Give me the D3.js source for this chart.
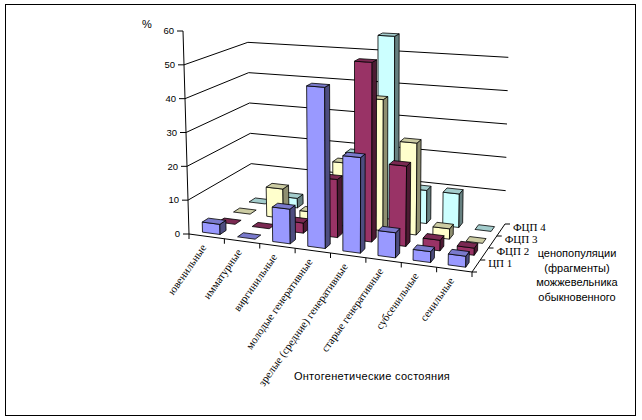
<!DOCTYPE html>
<html>
<head>
<meta charset="utf-8">
<script src="https://cdn.jsdelivr.net/npm/d3@7"></script>
<style>
  body { margin: 0; background: #fff; }
  svg { display: block; }
</style>
</head>
<body>
<svg id="chart" width="642" height="420"></svg>
<script>
// data
const categories = ["ювенильные", "имматурные", "виргинильные", "молодые генеративные",
  "зрелые (средние) генеративные", "старые генеративные", "субсенильные", "сенильные"];
const seriesNames = ["ЦП 1", "ФЦП 2", "ФЦП 3", "ФЦП 4"];
const cp1  = [3, 0, 10, 46, 27, 7, 3, 3];
const fcp2 = [0, 0, 3, 17, 52, 23, 3, 2];
const fcp3 = [0, 9, 3, 19, 39, 27, 3, 0];
const fcp4 = [0, 3, 2, 19, 56, 10, 10, 0];
const yTicks = [0, 10, 20, 30, 40, 50, 60];
const gridTicks = [10, 20, 30, 40, 50];
const depthTitle = ["ценопопуляции", "(фрагменты)", "можжевельника", "обыкновенного"];

const seriesValues = [cp1, fcp2, fcp3, fcp4];
// front, top, side colours per series
const colors = [
  { front: "#9999ff", top: "#7a7acc", side: "#4d4d80" },
  { front: "#993366", top: "#7a2952", side: "#4d1a33" },
  { front: "#ffffcc", top: "#cccca3", side: "#8f8f70" },
  { front: "#ccffff", top: "#a3cccc", side: "#668080" }
];

const svg = d3.select("#chart");

// outer frame
svg.append("rect")
  .attr("x", 5.5).attr("y", 4.5)
  .attr("width", 630).attr("height", 411)
  .attr("fill", "none").attr("stroke", "#000").attr("stroke-width", 1);

// scales: u along categories, v along depth (0 = front), h height 0..1
const x = d3.scaleBand().domain(categories).range([0, 1]).paddingInner(0.5).paddingOuter(0.25);
const z = d3.scaleBand().domain(seriesNames).range([0, 1]).paddingInner(0.6).paddingOuter(0.3);
const y = d3.scaleLinear().domain([0, 60]).range([0, 1]);

// screen corners of the floor and of the 60 level
const floor = { fl: [189, 234], fr: [472, 272], bl: [252, 194], br: [505, 224] };
const roof  = { fl: [183, 31],  fr: [477, 50],  bl: [247, 12],  br: [509, 24] };

function bilerp(c, u, v, i) {
  return (1 - u) * (1 - v) * c.fl[i] + u * (1 - v) * c.fr[i] +
         (1 - u) * v * c.bl[i] + u * v * c.br[i];
}

function project(u, v, h) {
  const fx = bilerp(floor, u, v, 0), fy = bilerp(floor, u, v, 1);
  const tx = bilerp(roof, u, v, 0), ty = bilerp(roof, u, v, 1);
  return [fx + (tx - fx) * h, fy + (ty - fy) * h];
}

const pts = arr => arr.map(p => project(...p).join(",")).join(" ");

// gridlines on left wall and back wall
const grid = svg.append("g").attr("stroke", "#000").attr("stroke-width", 1).attr("fill", "none");
gridTicks.forEach(t => {
  const h = y(t);
  grid.append("polyline")
    .attr("points", pts([[0, 0, h], [0, 1, h], [1, 1, h]]));
});

// value axis
const axis = svg.append("g");
const a0 = project(0, 0, 0), a1 = project(0, 0, 1);
axis.append("line")
  .attr("x1", a0[0]).attr("y1", a0[1]).attr("x2", a1[0]).attr("y2", a1[1])
  .attr("stroke", "#000");
yTicks.forEach(t => {
  const p = project(0, 0, y(t));
  axis.append("line")
    .attr("x1", p[0] - 6).attr("y1", p[1]).attr("x2", p[0]).attr("y2", p[1])
    .attr("stroke", "#000");
  axis.append("text")
    .attr("x", p[0] - 9).attr("y", p[1]).attr("dy", "0.35em")
    .attr("text-anchor", "end")
    .attr("font-family", "Arial, 'Liberation Sans', sans-serif")
    .attr("font-size", 9.5)
    .text(t);
});
svg.append("text")
  .attr("x", 147).attr("y", 28)
  .attr("text-anchor", "middle")
  .attr("font-family", "Arial, 'Liberation Sans', sans-serif")
  .attr("font-size", 11)
  .text("%");

// bars, back rows first, left to right
const bars = svg.append("g").attr("stroke", "#000").attr("stroke-width", 0.8).attr("stroke-linejoin", "round");
for (let s = seriesNames.length - 1; s >= 0; s--) {
  const name = seriesNames[s];
  const v0 = z(name), v1 = v0 + z.bandwidth();
  seriesValues[s].forEach((val, c) => {
    const u0 = x(categories[c]), u1 = u0 + x.bandwidth();
    const h = y(val);
    const col = colors[s];
    if (val > 0) {
      bars.append("polygon").attr("fill", col.front)
        .attr("points", pts([[u0, v0, 0], [u1, v0, 0], [u1, v0, h], [u0, v0, h]]));
      bars.append("polygon").attr("fill", col.side)
        .attr("points", pts([[u1, v0, 0], [u1, v1, 0], [u1, v1, h], [u1, v0, h]]));
    }
    bars.append("polygon").attr("fill", col.top)
      .attr("points", pts([[u0, v0, h], [u1, v0, h], [u1, v1, h], [u0, v1, h]]));
  });
}

// category axis along front edge
const catAxis = svg.append("g");
const c0 = project(0, 0, 0), c1 = project(1, 0, 0);
catAxis.append("line")
  .attr("x1", c0[0]).attr("y1", c0[1]).attr("x2", c1[0]).attr("y2", c1[1])
  .attr("stroke", "#000");
d3.range(categories.length + 1).forEach(i => {
  const p = project(i / categories.length, 0, 0);
  catAxis.append("line")
    .attr("x1", p[0]).attr("y1", p[1]).attr("x2", p[0]).attr("y2", p[1] + 5)
    .attr("stroke", "#000");
});
categories.forEach(cat => {
  const p = project(x(cat) + x.bandwidth() / 2, 0, 0);
  catAxis.append("text")
    .attr("transform", `translate(${p[0] - 3},${p[1] + 9}) rotate(-55)`)
    .attr("text-anchor", "end")
    .attr("dy", "0.35em")
    .attr("font-family", "'Liberation Serif', 'Times New Roman', serif")
    .attr("font-size", 11)
    .text(cat);
});
svg.append("text")
  .attr("x", 372).attr("y", 380)
  .attr("text-anchor", "middle")
  .attr("font-family", "Arial, 'Liberation Sans', sans-serif")
  .attr("font-size", 11)
  .attr("letter-spacing", 0.3)
  .text("Онтогенетические состояния");

// depth axis along right floor edge
const depthAxis = svg.append("g");
const d0 = project(1, 0, 0), d1 = project(1, 1, 0);
depthAxis.append("line")
  .attr("x1", d0[0]).attr("y1", d0[1]).attr("x2", d1[0]).attr("y2", d1[1])
  .attr("stroke", "#000");
d3.range(seriesNames.length + 1).forEach(i => {
  const p = project(1, i / seriesNames.length, 0);
  depthAxis.append("line")
    .attr("x1", p[0]).attr("y1", p[1]).attr("x2", p[0] + 5).attr("y2", p[1])
    .attr("stroke", "#000");
});
seriesNames.forEach(name => {
  const p = project(1, z(name) + z.bandwidth() / 2, 0);
  depthAxis.append("text")
    .attr("x", p[0] + 12).attr("y", p[1] + 1)
    .attr("font-family", "'Liberation Serif', 'Times New Roman', serif")
    .attr("font-size", 11)
    .text(name);
});
depthAxis.selectAll(".dtitle")
  .data(depthTitle)
  .enter()
  .append("text")
  .attr("class", "dtitle")
  .attr("x", 577)
  .attr("y", (d, i) => 257 + i * 14.5)
  .attr("text-anchor", "middle")
  .attr("font-family", "Arial, 'Liberation Sans', sans-serif")
  .attr("font-size", 11)
  .text(d => d);
</script>
</body>
</html>
